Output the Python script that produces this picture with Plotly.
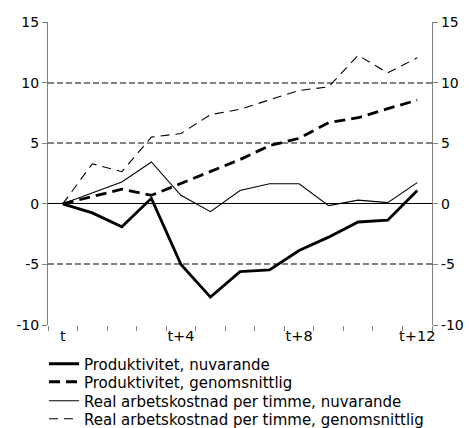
import plotly.graph_objects as go

categories = ["t", "t+1", "t+2", "t+3", "t+4", "t+5", "t+6", "t+7", "t+8", "t+9", "t+10", "t+11", "t+12"]
label_every = 4

y_ticks = [-10, -5, 0, 5, 10, 15]
y_ticktext = ["-10", "-5", "0", "5", "10", "15"]

prod_nu = [0, -0.75, -1.9, 0.45, -5.0, -7.7, -5.6, -5.45, -3.85, -2.75, -1.5, -1.35, 1.1]
prod_gen = [0, 0.6, 1.2, 0.7, 1.7, 2.65, 3.65, 4.8, 5.4, 6.7, 7.1, 7.85, 8.55]
lon_nu = [0, 0.9, 1.8, 3.45, 0.7, -0.65, 1.1, 1.65, 1.65, -0.15, 0.3, 0.1, 1.75]
lon_gen = [0, 3.3, 2.65, 5.5, 5.8, 7.35, 7.8, 8.55, 9.35, 9.65, 12.25, 10.8, 12.05]

names = [
    "Produktivitet, nuvarande",
    "Produktivitet, genomsnittlig",
    "Real arbetskostnad per timme, nuvarande",
    "Real arbetskostnad per timme, genomsnittlig",
]

W, H = 469, 428
xs = list(range(len(categories)))
FONT = "DejaVu Sans, Verdana, sans-serif"
GRID = "#808080"

fig = go.Figure()
styles = [
    dict(width=2.8, dash="solid"),
    dict(width=2.8, dash="11px,6px"),
    dict(width=1.1, dash="solid"),
    dict(width=1.1, dash="9px,6px"),
]
legend_ids = ["legend", "legend2", "legend3", "legend4"]
for name, ys, st, lg in zip(names, [prod_nu, prod_gen, lon_nu, lon_gen], styles, legend_ids):
    fig.add_trace(go.Scatter(x=xs, y=ys, mode="lines", name=name, legend=lg,
                             line=dict(color="black", width=st["width"], dash=st["dash"])))

# invisible trace to carry the right-hand axis
fig.add_trace(go.Scatter(x=xs, y=prod_nu, yaxis="y2", mode="lines",
                         line=dict(color="rgba(0,0,0,0)"), showlegend=False, hoverinfo="skip"))

tickvals = xs[::label_every]
ticktext = categories[::label_every]

legend_rows = [364, 382, 401, 419]
legends = {}
for lg, row in zip(legend_ids, legend_rows):
    legends[lg] = dict(xref="container", yref="container", x=44 / W, y=1 - row / H,
                       xanchor="left", yanchor="middle", orientation="h",
                       font=dict(size=15), itemwidth=30,
                       bgcolor="rgba(0,0,0,0)", borderwidth=0)

fig.update_layout(
    width=W, height=H,
    margin=dict(l=48, r=37, t=22, b=103),
    plot_bgcolor="white", paper_bgcolor="white",
    font=dict(family=FONT, size=14, color="black"),
    showlegend=True,
    xaxis=dict(range=[-0.5, len(categories) - 0.5], tickvals=tickvals, ticktext=ticktext,
               ticks="", showgrid=False, zeroline=False, showline=False, automargin=False,
               minor=dict(ticks="outside", tick0=-0.5, dtick=1, ticklen=5, tickcolor=GRID,
                          showgrid=False),
               tickfont=dict(size=14.5)),
    yaxis=dict(range=[-10, 15], tickvals=y_ticks, ticktext=y_ticktext, showgrid=True,
               gridcolor=GRID, griddash="6px,3px", gridwidth=1.5, automargin=False,
               zeroline=True, zerolinecolor="black", zerolinewidth=1.2,
               showline=True, linecolor=GRID, linewidth=1.2,
               ticks="outside", ticklen=5, tickcolor=GRID, tickfont=dict(size=14)),
    yaxis2=dict(range=[-10, 15], tickvals=y_ticks, ticktext=y_ticktext, overlaying="y", side="right",
                showgrid=False, zeroline=False, showline=True, linecolor=GRID, linewidth=1.2,
                automargin=False,
                ticks="outside", ticklen=5, tickcolor=GRID, tickfont=dict(size=14)),
    **legends,
)

fig.write_html("out.html", config={"displayModeBar": False},
               post_script="document.body.style.margin='0';")
